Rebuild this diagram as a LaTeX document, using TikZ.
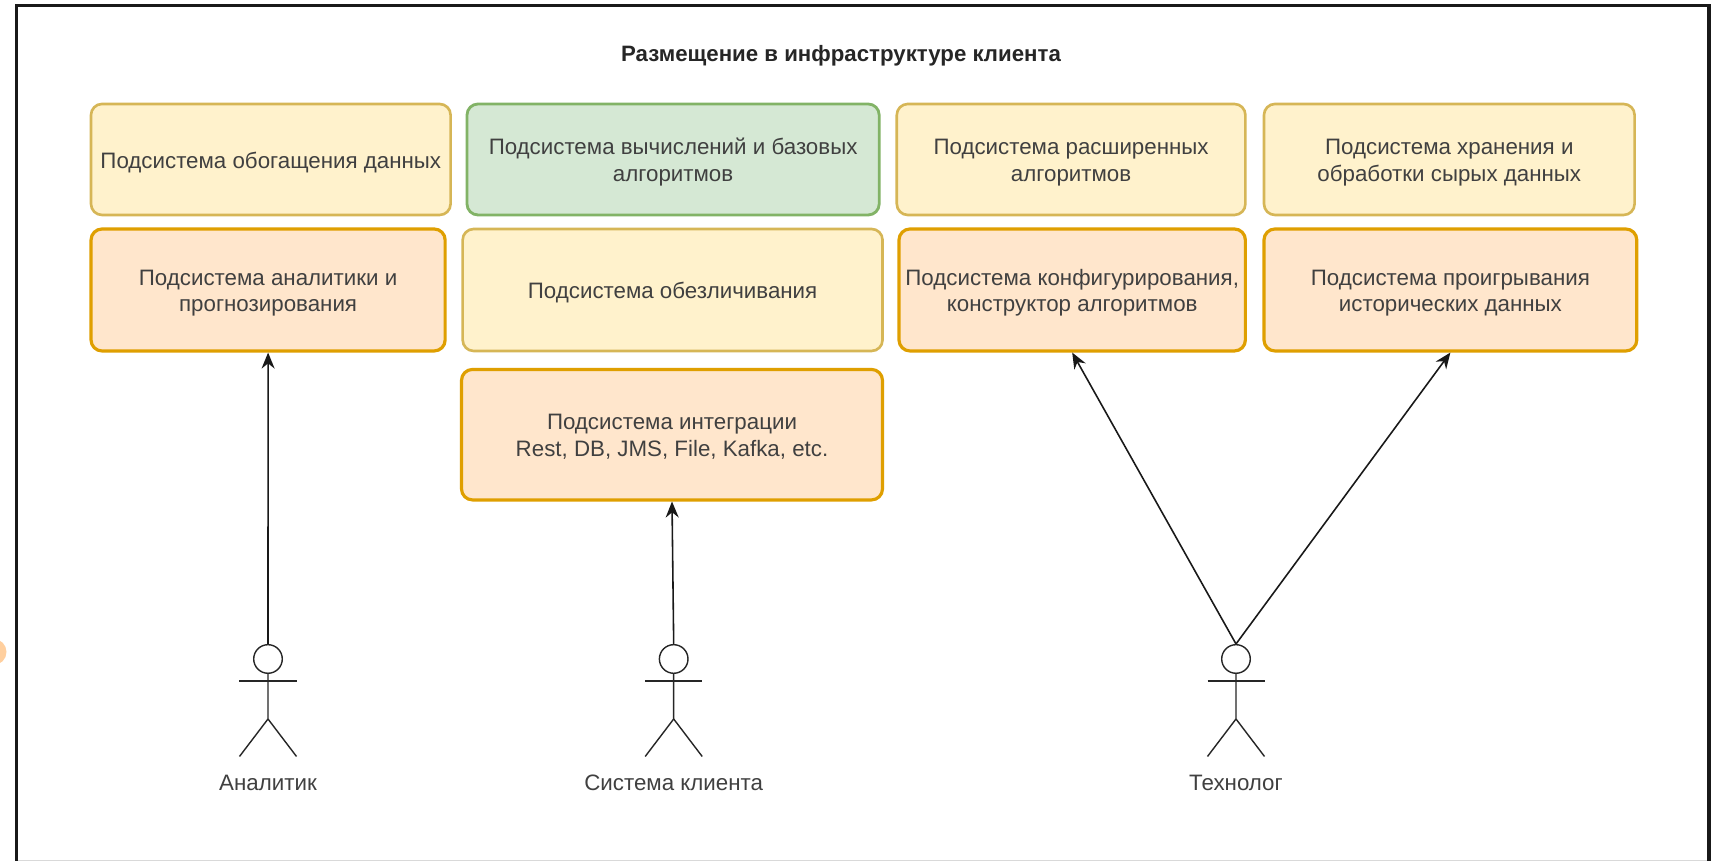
\documentclass[tikz,border=0pt]{standalone}
\usepackage{fontspec}
\setmainfont{Liberation Sans}
\usetikzlibrary{arrows.meta}
\definecolor{paleyellow}{HTML}{FFF2CC}
\definecolor{edgeyellow}{HTML}{D6B656}
\definecolor{palegreen}{HTML}{D5E8D4}
\definecolor{edgegreen}{HTML}{82B366}
\definecolor{paleorange}{HTML}{FFE6CC}
\definecolor{edgeorange}{HTML}{DF9F00}
\tikzset{
	subsys/.style={rectangle, rounded corners=0.11cm, align=center, text=black!75, font=\fontsize{6.35}{7.6}\selectfont, inner sep=0pt},
	oneline/.style={text height=6.3pt, text depth=1.4pt},
	twolines/.style={text height=13.9pt, text depth=1.4pt},
	yellowbox/.style={subsys, draw=edgeyellow, fill=paleyellow, line width=0.75pt},
	greenbox/.style={subsys, draw=edgegreen, fill=palegreen, line width=0.8pt},
	orangebox/.style={subsys, draw=edgeorange, fill=paleorange, line width=0.9pt},
	usearrow/.style={-{Stealth[length=0.16cm,width=0.13cm]}, line width=0.45pt, black!90},
	actorlabel/.style={text=black!75, font=\fontsize{6.35}{7.6}\selectfont, inner sep=0pt, text height=4.6pt, text depth=0pt}
}
\def\actor(#1:#2)#3#4{
	\node[circle, draw=black!85, line width=0.4pt, minimum size=0.286cm, inner sep=0pt] (#1) at (#2, 2.02) {};
	\draw[line width=0.4pt, black!85] (#1.south) -- (#2, 1.42) -- (#2-0.285, 1.045);
	\draw[line width=0.4pt, black!85] (#2, 1.42) -- (#2+0.285, 1.045);
	\draw[line width=0.4pt, black!85] (#2-0.285, 1.80) -- (#2+0.285, 1.80);
	\node[actorlabel] (#3) at (#2, 0.79) {#4};
}

\begin{document}
\begin{tikzpicture}
			%%%%% FRAME %%%%%
			\useasboundingbox (0, 0) rectangle (17.19, 8.61);
			\fill[fill=white] (0, 0) rectangle (17.19, 8.61);
			\fill[fill=orange!38] (-0.065, 2.09) circle (0.13);
			\draw[line width=0.2pt, black!15] (0.165, 0.01) -- (17.09, 0.01);
			\draw[line width=0.9pt, black!90] (0.165, 0) -- (0.165, 8.555) -- (17.09, 8.555) -- (17.09, 0);
			
			\node[text=black!85, font=\fontsize{6.33}{7.6}\selectfont\bfseries, inner sep=0pt] (title) at (8.41, 8.055) {Размещение в инфраструктуре клиента};
			
			%%%%% TOP ROW %%%%%
			\node[yellowbox, oneline, minimum width=3.596cm, minimum height=1.11cm] (enrich) at (2.708, 7.015) {Подсистема обогащения данных};
			\node[greenbox, twolines, minimum width=4.122cm, minimum height=1.11cm] (compute) at (6.731, 7.015) {Подсистема вычислений и базовых\\алгоритмов};
			\node[yellowbox, twolines, minimum width=3.486cm, minimum height=1.11cm] (advanced) at (10.711, 7.015) {Подсистема расширенных\\алгоритмов};
			\node[yellowbox, twolines, minimum width=3.706cm, minimum height=1.11cm] (storage) at (14.493, 7.015) {Подсистема хранения и\\обработки сырых данных};
			
			%%%%% SECOND ROW %%%%%
			\node[orangebox, twolines, minimum width=3.541cm, minimum height=1.22cm] (analytics) at (2.681, 5.71) {Подсистема аналитики и\\прогнозирования};
			\node[yellowbox, oneline, minimum width=4.199cm, minimum height=1.22cm] (anonym) at (6.726, 5.71) {Подсистема обезличивания};
			\node[orangebox, twolines, minimum width=3.464cm, minimum height=1.22cm] (config) at (10.722, 5.71) {Подсистема конфигурирования,\\конструктор алгоритмов};
			\node[orangebox, twolines, minimum width=3.728cm, minimum height=1.22cm] (replay) at (14.504, 5.71) {Подсистема проигрывания\\исторических данных};
			
			\node[orangebox, twolines, minimum width=4.21cm, minimum height=1.305cm] (integr) at (6.72, 4.263) {Подсистема интеграции\\Rest, DB, JMS, File, Kafka, etc.};
			
			%%%%% ACTORS %%%%%
			\actor(analyst:2.68){analystlabel}{Аналитик}
			\actor(client:6.737){clientlabel}{Система клиента}
			\actor(technolog:12.36){technologlabel}{Технолог}
			
			\draw[usearrow] (analyst.north) -- (analytics.south);
			\draw[usearrow] (client.north) -- (integr.south);
			\draw[usearrow] (technolog.north) -- (config.south);
			\draw[usearrow] (technolog.north) -- (replay.south);
\end{tikzpicture}
\end{document}
